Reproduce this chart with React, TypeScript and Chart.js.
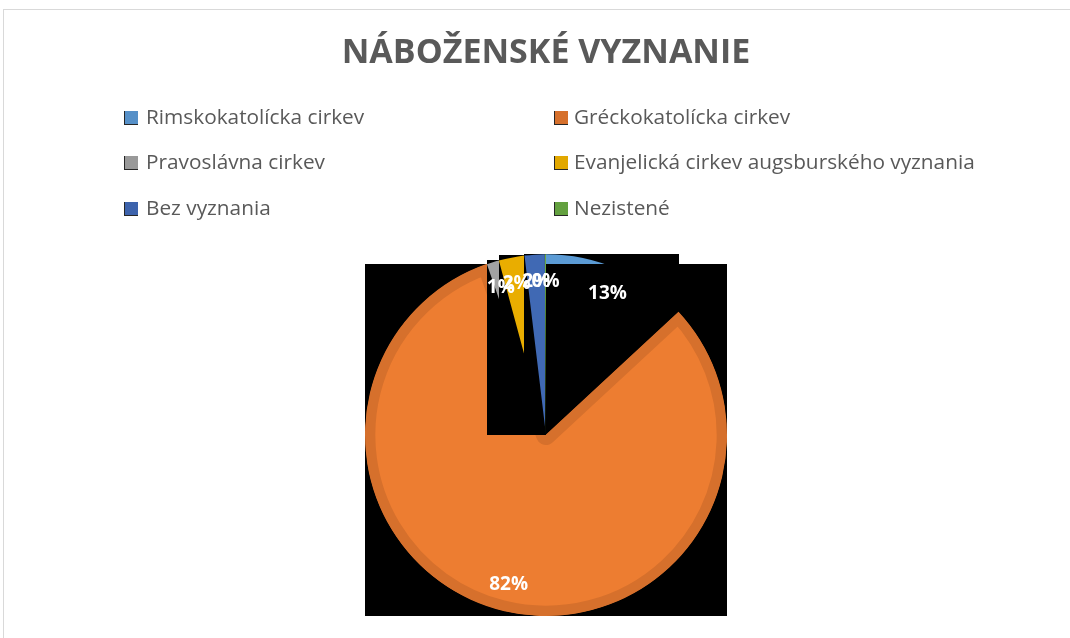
import React, { useEffect, useRef } from "react";
import { Chart, registerables } from "chart.js";

Chart.register(...registerables);

const titleText = "NÁBOŽENSKÉ VYZNANIE";
const categories = [
  "Rimskokatolícka cirkev",
  "Gréckokatolícka cirkev",
  "Pravoslávna cirkev",
  "Evanjelická cirkev augsburského vyznania",
  "Bez vyznania",
  "Nezistené",
];
const values = [13.1, 81.6, 1.1, 2.3, 1.8, 0.1];
const fillColors = ["#5B9BD5", "#ED7D31", "#A2A2A2", "#E9AD00", "#4069B4", "#6AA843"];
const edgeColors = ["#5690C8", "#D6702C", "#999999", "#E2A800", "#3D63AC", "#63A03F"];
const edgeWidths = [0, 10, 0, 0, 0, 0];

const FONT = "'Open Sans', 'DejaVu Sans', sans-serif";

const wedgeBoxPlugin = {
  id: "wedgeBox",
  beforeDraw(chart: any) {
    const ctx = chart.ctx;
    ctx.save();
    ctx.strokeStyle = "#D9D9D9";
    ctx.lineWidth = 1;
    ctx.strokeRect(3.5, 9.5, chart.width + 50, chart.height + 50);
    ctx.restore();
  },
  beforeDatasetDraw(chart: any, args: any) {
    const ctx = chart.ctx;
    const area = chart.chartArea;
    const els = args.meta.data;
    for (const el of els) {
      const p = el.getProps(["x", "y", "startAngle", "endAngle", "outerRadius"], true);
      const xs = [p.x];
      const ys = [p.y];
      const angles = [p.startAngle, p.endAngle];
      for (let k = -4; k <= 8; k++) {
        const a = (k * Math.PI) / 2;
        if (a > p.startAngle && a < p.endAngle) angles.push(a);
      }
      for (const a of angles) {
        xs.push(p.x + p.outerRadius * Math.cos(a));
        ys.push(p.y + p.outerRadius * Math.sin(a));
      }
      const x0 = Math.round(Math.min(...xs));
      const x1 = Math.round(Math.max(...xs));
      const y0 = Math.round(Math.min(...ys));
      const y1 = Math.round(Math.max(...ys));
      ctx.save();
      ctx.fillStyle = "#000000";
      ctx.fillRect(x0, y0, x1 - x0, y1 - y0);
      ctx.restore();
      el.draw(ctx, area);
    }
    return false;
  },
  afterDatasetsDraw(chart: any) {
    const ctx = chart.ctx;
    const meta = chart.getDatasetMeta(0);
    const data = chart.data.datasets[0].data as number[];
    const total = data.reduce((s, v) => s + v, 0);
    ctx.save();
    ctx.fillStyle = "#FFFFFF";
    ctx.font = `bold 19px ${FONT}`;
    ctx.textAlign = "center";
    ctx.textBaseline = "middle";
    meta.data.forEach((el: any, i: number) => {
      const p = el.getProps(["x", "y", "startAngle", "endAngle", "outerRadius"], true);
      const mid = (p.startAngle + p.endAngle) / 2;
      const r = p.outerRadius * 0.85;
      const pct = Math.round((data[i] / total) * 100) + "%";
      ctx.fillText(pct, p.x + r * Math.cos(mid), p.y + r * Math.sin(mid));
    });
    ctx.restore();
  },
  afterDraw(chart: any) {
    const ctx = chart.ctx;
    const colX = [124, 554];
    const textX = [146, 574];
    const rowY = [118, 163, 209];
    ctx.save();
    ctx.font = `20.8px ${FONT}`;
    ctx.textBaseline = "middle";
    ctx.textAlign = "left";
    categories.forEach((name, i) => {
      const c = i % 2;
      const r = Math.floor(i / 2);
      const bx = colX[c];
      const by = rowY[r] - 7;
      ctx.fillStyle = edgeColors[i];
      ctx.fillRect(bx, by, 14, 14);
      ctx.fillStyle = "#262626";
      ctx.fillRect(bx, by, 1, 14);
      ctx.fillRect(bx, by + 13, 14, 1);
      ctx.fillStyle = "#595959";
      ctx.fillText(name, textX[c], rowY[r]);
    });
    ctx.restore();
  },
};

export default function App() {
  const ref = useRef<HTMLCanvasElement | null>(null);
  useEffect(() => {
    if (!ref.current) return;
    const chart = new Chart(ref.current, {
      type: "pie",
      data: {
        labels: categories,
        datasets: [
          {
            data: values,
            backgroundColor: fillColors,
            borderColor: edgeColors,
            borderWidth: edgeWidths,
            borderAlign: "inner",
            offset: 0,
            hoverOffset: 0,
          } as any,
        ],
      },
      options: {
        responsive: false,
        animation: false,
        devicePixelRatio: 1,
        layout: { padding: { left: 22, right: 0, top: 0, bottom: 22 } },
        plugins: {
          legend: { display: false },
          tooltip: { enabled: false },
          title: {
            display: true,
            text: titleText,
            color: "#595959",
            font: { family: FONT, size: 34, weight: "bold", lineHeight: 1.2 },
            padding: { top: 33, bottom: 180.2 },
          },
        },
      } as any,
      plugins: [wedgeBoxPlugin],
    });
    return () => chart.destroy();
  }, []);
  return (
    <div style={{ position: "fixed", left: 0, top: 0, width: 1070, height: 638, background: "#FFFFFF" }}>
      <canvas ref={ref} width={1070} height={638} />
    </div>
  );
}
